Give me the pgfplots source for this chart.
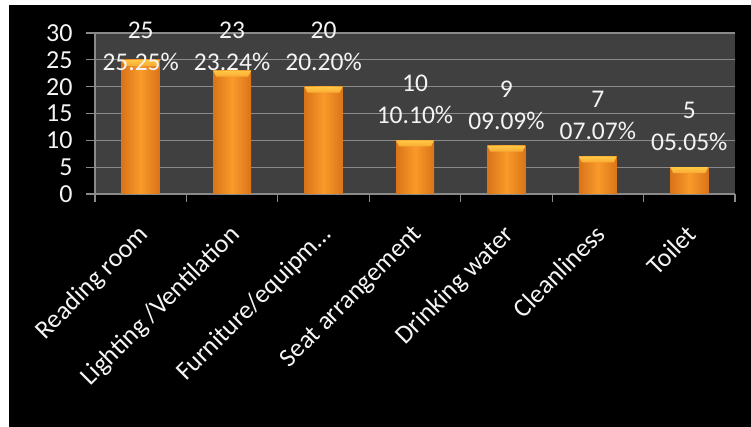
\documentclass[border=0pt]{standalone}
\usepackage{pgfplots}
\pgfplotsset{compat=1.18}
\usepackage{fontspec}
\setmainfont{Carlito}

\definecolor{panel}{HTML}{404040}
\definecolor{gridgray}{HTML}{8A8A8A}
\definecolor{barmid}{HTML}{F99A2A}
\definecolor{baredge}{HTML}{DA7418}
\definecolor{capyellow}{HTML}{FFD84E}
\definecolor{labwhite}{HTML}{F4F4F4}

% light bevel on top of each bar
\pgfdeclareverticalshading{capshade}{100bp}{color(0bp)=(barmid); color(100bp)=(capyellow)}
\pgfdeclareplotmark{barcap}{%
  \pgfpathmoveto{\pgfqpoint{-16pt}{-6pt}}%
  \pgfpathlineto{\pgfqpoint{16pt}{-6pt}}%
  \pgfpathlineto{\pgfqpoint{19pt}{0pt}}%
  \pgfpathlineto{\pgfqpoint{-19pt}{0pt}}%
  \pgfpathclose
  \pgfshadepath{capshade}{0}%
  \pgfusepath{discard}}

\pgfplotstableread{
x count pct laby
0 25 25.25 27.6
1 23 23.24 27.6
2 20 20.20 27.6
3 10 10.10 17.6
4 9 09.09 16.6
5 7 07.07 14.6
6 5 05.05 12.6
}\survey

\begin{document}
\begin{tikzpicture}
\useasboundingbox (0pt,0pt) rectangle (751pt,427pt);
\fill[white] (0pt,0pt) rectangle (751pt,427pt);
\fill[black] (9pt,0pt) rectangle (751pt,422pt);
\begin{axis}[
  at={(95pt,233pt)}, anchor=south west,
  scale only axis, width=640pt, height=161pt,
  clip=false,
  axis background/.style={fill=panel},
  axis lines*=left,
  axis line style={draw=gridgray, line width=1.2pt, -},
  xmin=-0.5, xmax=6.5, ymin=0, ymax=30,
  ytick={0,5,...,30},
  ymajorgrids,
  major grid style={draw=gridgray, line width=1.2pt},
  xtick={0,...,6},
  xticklabels={Reading room, Lighting /Ventilation, Furniture/equipm…, Seat arrangement, Drinking water, Cleanliness, Toilet},
  minor xtick={-0.5,0.5,...,6.5},
  every major x tick/.style={draw=none},
  tick align=outside,
  major tick length=9pt, minor tick length=8pt,
  tick style={draw=gridgray, line width=1.2pt},
  /pgf/number format/assume math mode=true,
  yticklabel style={font=\fontsize{26}{30}\selectfont, text=labwhite, xshift=-10pt},
  xticklabel style={yshift=-17pt, xshift=-4pt, font=\fontsize{26}{31}\selectfont, text=labwhite, rotate=45, anchor=north east, inner sep=2pt},
]
\pgfplotsinvokeforeach{0,...,6}{
  \addplot[ybar, bar width=38pt, bar shift=0pt, draw=none,
    restrict x to domain=#1:#1,
    left color=baredge, right color=baredge, middle color=barmid]
    table[x=x, y=count] {\survey};
}
\addplot[only marks, mark=barcap] table[x=x, y=count] {\survey};
\addplot[draw=none, mark=none,
  visualization depends on={\thisrow{count} \as \cnt},
  point meta=explicit symbolic,
  nodes near coords={\pgfmathprintnumber{\cnt}\\\pgfplotspointmeta\%},
  every node near coord/.style={anchor=center, align=center, text=labwhite,
    font=\fontsize{25.5}{32}\selectfont}]
  table[x=x, y=laby, meta=pct] {\survey};
\end{axis}
\end{tikzpicture}
\end{document}
